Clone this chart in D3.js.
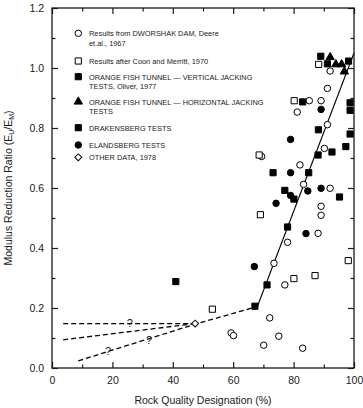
<!DOCTYPE html>
<html>
<head>
<meta charset="utf-8">
<script src="https://cdn.jsdelivr.net/npm/d3@7"></script>
<style>
body { margin: 0; background: #fff; }
svg { font-family: "Liberation Sans", Arial, sans-serif; }
</style>
</head>
<body>
<div id="chart"></div>
<script>
"use strict";
var w = 363;
var h = 408;

// RQD (%) vs modulus ratio
var dworshak = [[92.1,0.99],[91.2,0.932],[85.2,0.891],[89.1,0.891],[81.2,0.853],[91.2,0.811],
    [90.2,0.732],[69.4,0.705],[82.1,0.677],[83.3,0.612],[92.1,0.599],[89.1,0.539],[89.1,0.509],
    [88.1,0.449],[78.0,0.419],[73.5,0.349],[77.1,0.277],[72.1,0.167],[75.1,0.106],[70.1,0.076],
    [83.0,0.066],[59.3,0.117],[60.1,0.108]];
var coonMerritt = [[88.3,1.012],[80.2,0.891],[68.6,0.71],[69.0,0.511],[98.1,0.358],
    [80.1,0.298],[87.1,0.308],[53.1,0.196]];
var orangeVertical = [[89.0,1.039],[91.2,1.014],[98.2,1.023],[83.0,0.887],[98.7,0.884],[98.7,0.859]];
var orangeHorizontal = [[92.1,1.036],[94.0,1.012],[95.9,1.012],[96.8,0.988]];
var drakensberg = [[88.2,0.794],[98.7,0.78],[97.3,0.738],[92.7,0.72],[88.1,0.71],[73.2,0.651],
    [85.0,0.651],[77.1,0.592],[80.1,0.563],[95.2,0.57],[78.0,0.47],[71.2,0.277],[67.2,0.206],[41.0,0.288]];
var elandsberg = [[89.1,0.862],[79.0,0.762],[79.0,0.651],[79.0,0.575],[84.7,0.59],[89.1,0.599],
    [74.2,0.549],[84.1,0.448],[67.0,0.338]];
var otherData = [[47.4,0.148]];
var queries = [[25.8,0.149],[32.1,0.093],[18.6,0.058]];

var dashLines = [
    [[3.7,0.148],[47.4,0.148]],
    [[3.7,0.094],[47.4,0.148]],
    [[8.7,0.024],[47.4,0.146],[68,0.205]]
];
var trendLine = [[68,0.205],[100,1.05]];

var xTicks = [0,20,40,60,80,100];
var xMinor = [10,30,50,70,90];
var yTicks = [0,0.2,0.4,0.6,0.8,1.0,1.2];
var yMinor = [0.1,0.3,0.5,0.7,0.9,1.1];

var legendItems = [
    {sym: "circle", fill: "none", lines: ["Results from DWORSHAK DAM, Deere", "et.al., 1967"]},
    {sym: "square", fill: "none", lines: ["Results after Coon and Merritt, 1970"]},
    {sym: "square", fill: "#000", lines: ["ORANGE FISH TUNNEL \u2014 VERTICAL JACKING", "TESTS, Oliver, 1977"]},
    {sym: "triangle", fill: "#000", lines: ["ORANGE FISH TUNNEL \u2014 HORIZONTAL JACKING", "TESTS"]},
    {sym: "square", fill: "#000", lines: ["DRAKENSBERG TESTS"]},
    {sym: "circle", fill: "#000", lines: ["ELANDSBERG TESTS"]},
    {sym: "diamond", fill: "none", lines: ["OTHER DATA, 1978"]}
];
var legendY = [33.3, 61, 76.7, 101.7, 127.7, 145, 157.3];

function init() {
    apply();
};
window.onload = init;

function symbolPath(type) {
    if (type == "circle") return d3.symbol().type(d3.symbolCircle).size(33)();
    if (type == "square") return d3.symbol().type(d3.symbolSquare).size(38)();
    if (type == "triangle") return d3.symbol().type(d3.symbolTriangle).size(30)();
    return d3.symbol().type(d3.symbolSquare).size(24)();
}

function apply() {
    var x = d3.scaleLinear().domain([0,100]).range([52,354]);
    var y = d3.scaleLinear().domain([0,1.2]).range([368,8]);

    var svg = d3.select("#chart")
                .append("svg")
                .attr("width", w)
                .attr("height", h);

    var ink = "#1a1a1a";

    // axes, ticks pointing inward
    function drawAxis(axis, tx, ty, labels) {
        var g = svg.append("g").attr("transform", "translate(" + tx + "," + ty + ")").call(axis);
        g.select(".domain").remove();
        g.selectAll("line").attr("stroke", ink).attr("stroke-width", 1.2);
        g.selectAll("text").attr("fill", ink).style("font-size", "10.5px")
         .style("font-family", "Liberation Sans, Arial, sans-serif");
        if (!labels) g.selectAll("text").remove();
        return g;
    }
    drawAxis(d3.axisBottom(x).tickValues(xTicks).tickFormat(d3.format("d")).tickSizeInner(-6).tickSizeOuter(0).tickPadding(9), 0, 368, true);
    drawAxis(d3.axisBottom(x).tickValues(xMinor).tickSizeInner(-3.5).tickSizeOuter(0), 0, 368, false);
    drawAxis(d3.axisTop(x).tickValues(xTicks).tickSizeInner(-6).tickSizeOuter(0), 0, 8, false);
    drawAxis(d3.axisTop(x).tickValues(xMinor).tickSizeInner(-3.5).tickSizeOuter(0), 0, 8, false);
    drawAxis(d3.axisLeft(y).tickValues(yTicks).tickFormat(d3.format(".1f")).tickSizeInner(-6).tickSizeOuter(0).tickPadding(8), 52, 0, true);
    drawAxis(d3.axisLeft(y).tickValues(yMinor).tickSizeInner(-3.5).tickSizeOuter(0), 52, 0, false);
    drawAxis(d3.axisRight(y).tickValues(yTicks).tickSizeInner(-6).tickSizeOuter(0), 354, 0, false);
    drawAxis(d3.axisRight(y).tickValues(yMinor).tickSizeInner(-3.5).tickSizeOuter(0), 354, 0, false);

    svg.append("rect")
        .attr("x", x(0)).attr("y", y(1.2))
        .attr("width", x(100) - x(0)).attr("height", y(0) - y(1.2))
        .attr("fill", "none").attr("stroke", ink).attr("stroke-width", 1.3);

    // axis titles
    svg.append("text")
        .attr("x", (x(0) + x(100)) / 2).attr("y", 404)
        .attr("text-anchor", "middle").attr("fill", ink)
        .style("font-size", "10.5px")
        .text("Rock Quality Designation (%)");

    var yl = svg.append("text")
        .attr("transform", "translate(12," + (y(0.6)) + ") rotate(-90)")
        .attr("text-anchor", "middle").attr("fill", ink)
        .style("font-size", "10.5px");
    yl.append("tspan").text("Modulus Reduction Ratio (E");
    yl.append("tspan").text("U").style("font-size", "7px").attr("dy", 2);
    yl.append("tspan").text("/E").attr("dy", -2);
    yl.append("tspan").text("M").style("font-size", "7px").attr("dy", 2);
    yl.append("tspan").text(")").attr("dy", -2);

    // fitted lines
    var line = d3.line().x(function(d){ return x(d[0]); }).y(function(d){ return y(d[1]); });
    svg.selectAll(".dash")
        .data(dashLines)
        .enter()
        .append("path")
        .attr("class", "dash")
        .attr("d", line)
        .attr("fill", "none").attr("stroke", "#000")
        .attr("stroke-width", 1.3).attr("stroke-dasharray", "5,3");
    svg.append("path")
        .attr("d", line(trendLine))
        .attr("fill", "none").attr("stroke", "#000").attr("stroke-width", 1.1);

    svg.selectAll(".query")
        .data(queries)
        .enter()
        .append("text")
        .attr("class", "query")
        .attr("x", function(d){ return x(d[0]); })
        .attr("y", function(d){ return y(d[1]) + 4; })
        .attr("text-anchor", "middle").attr("fill", ink)
        .style("font-size", "11px")
        .text("?");

    // scatter series
    var series = [
        {data: dworshak, sym: "circle", fill: "#fff"},
        {data: coonMerritt, sym: "square", fill: "#fff"},
        {data: orangeVertical, sym: "square", fill: "#000"},
        {data: orangeHorizontal, sym: "triangle", fill: "#000"},
        {data: drakensberg, sym: "square", fill: "#000"},
        {data: elandsberg, sym: "circle", fill: "#000"},
        {data: otherData, sym: "diamond", fill: "#fff"}
    ];
    series.forEach(function(s) {
        svg.append("g").selectAll("path")
            .data(s.data)
            .enter()
            .append("path")
            .attr("d", symbolPath(s.sym))
            .attr("transform", function(d){
                return "translate(" + x(d[0]) + "," + y(d[1]) + ")" + (s.sym == "diamond" ? " rotate(45)" : "");
            })
            .attr("fill", s.fill)
            .attr("stroke", "#000").attr("stroke-width", 1);
    });

    // legend
    var legend = svg.append("g").attr("class", "legend");
    legendItems.forEach(function(item, i) {
        var ly = legendY[i];
        legend.append("path")
            .attr("d", symbolPath(item.sym))
            .attr("transform", "translate(78.3," + ly + ")" + (item.sym == "diamond" ? " rotate(45)" : ""))
            .attr("fill", item.fill == "none" ? "#fff" : item.fill)
            .attr("stroke", "#000").attr("stroke-width", 1);
        item.lines.forEach(function(t, j) {
            legend.append("text")
                .attr("x", 89).attr("y", ly + 3 + j * 9.5)
                .attr("fill", ink)
                .style("font-size", "7.4px")
                .text(t);
        });
    });
};
</script>
</body>
</html>
